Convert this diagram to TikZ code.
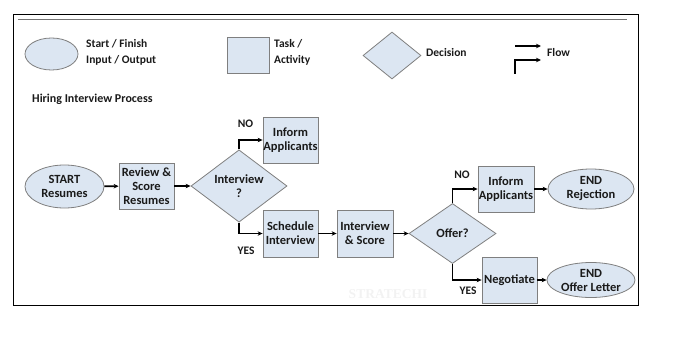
\documentclass[tikz,border=0pt]{standalone}
\usepackage{fontspec}
\setmainfont{Carlito}
\newfontfamily\wmfont{Liberation Serif}
\usetikzlibrary{shapes.geometric,arrows.meta}
\definecolor{boxfill}{HTML}{DCE6F2}
\definecolor{boxline}{HTML}{7F7F7F}
\definecolor{txt}{HTML}{1A1A1A}
\tikzset{
  base/.style={draw=boxline, fill=boxfill, line width=0.8pt, inner sep=0pt, align=center, text=txt, font=\bfseries\fontsize{12.5}{14}\selectfont},
  taskbox/.style={base, rectangle, minimum width=55pt, minimum height=46pt},
  termin/.style={base, ellipse},
  decide/.style={base, diamond},
  flowline/.style={line width=1.6pt, -{Stealth[length=5pt,width=4.5pt]}},
  lbl/.style={font=\bfseries\fontsize{11.5}{12}\selectfont, text=txt, inner sep=0pt},
  leg/.style={font=\bfseries\fontsize{11.5}{16}\selectfont, text=txt, inner sep=0pt, align=left, anchor=west},
}
\begin{document}
\begin{tikzpicture}[x=1pt,y=-1pt]
\useasboundingbox (0,0) rectangle (674,342);
\draw[line width=0.9pt] (13,14) rectangle (638,305);
\draw[line width=1pt, black!55] (18,20) -- (627,20);
% watermark
\node[font=\wmfont\bfseries\fontsize{13.5}{13.5}\selectfont, text=black!5, inner sep=0pt] (wm) at (388,294) {STRATECHI};
% legend
\node[termin, minimum width=53pt, minimum height=32pt] (lell) at (51.5,54) {};
\node[leg] (lellt) at (86,52) {Start / Finish\\Input / Output};
\node[taskbox, minimum width=42pt, minimum height=36pt] (lbox) at (248,55) {};
\node[leg] (lboxt) at (274,52) {Task /\\Activity};
\node[decide, minimum width=58pt, minimum height=47pt] (ldia) at (392,55.5) {};
\node[leg] (ldiat) at (426,53) {Decision};
\coordinate (fa1) at (515,46);
\coordinate (fa2) at (541,46);
\coordinate (fb1) at (515,74);
\coordinate (fb2) at (515,60);
\coordinate (fb3) at (541,60);
\draw[flowline] (fa1) -- (fa2);
\draw[flowline] (fb1) -- (fb2) -- (fb3);
\node[leg] (flowt) at (547,53) {Flow};
\node[leg, font=\bfseries\fontsize{12}{14}\selectfont] (title) at (32,99) {Hiring Interview Process};
% chart
\node[termin, minimum width=79pt, minimum height=43pt] (start) at (64.5,186.5) {START\\Resumes};
\node[taskbox] (review) at (146.5,186) {Review \&\\Score\\Resumes};
\node[decide, minimum width=96pt, minimum height=60pt] (dec1) at (239,186) {Interview\\?};
\node[taskbox] (inform1) at (290.5,140) {Inform\\Applicants};
\node[taskbox, minimum height=47pt] (sched) at (290.5,233.5) {Schedule\\Interview};
\node[taskbox, minimum width=56pt, minimum height=47pt] (intsc) at (365,233.5) {Interview\\\& Score};
\node[decide, minimum width=87pt, minimum height=60pt] (dec2) at (452.5,233.5) {Offer?};
\node[taskbox, minimum width=56pt] (inform2) at (506,189) {Inform\\Applicants};
\node[termin, minimum width=86pt, minimum height=40pt] (endrej) at (591,189) {END\\Rejection};
\node[taskbox] (nego) at (509.5,280) {Negotiate};
\node[termin, minimum width=88pt, minimum height=35pt] (endoff) at (591,280) {END\\Offer Letter};
\draw[flowline] (start) -- (review);
\draw[flowline] (review) -- (dec1);
\draw[flowline] (dec1.north) |- (inform1.west);
\draw[flowline] (dec1.south) |- (sched.west);
\draw[flowline] (sched) -- (intsc);
\draw[flowline] (intsc) -- (dec2);
\draw[flowline] (dec2.north) |- (inform2.west);
\draw[flowline] (dec2.south) |- (nego.west);
\draw[flowline] (inform2) -- (endrej);
\draw[flowline] (nego) -- (endoff);
\node[lbl] (no1) at (245.5,124) {NO};
\node[lbl] (yes1) at (246,251) {YES};
\node[lbl] (no2) at (462,175) {NO};
\node[lbl] (yes2) at (468,291) {YES};
\end{tikzpicture}
\end{document}
